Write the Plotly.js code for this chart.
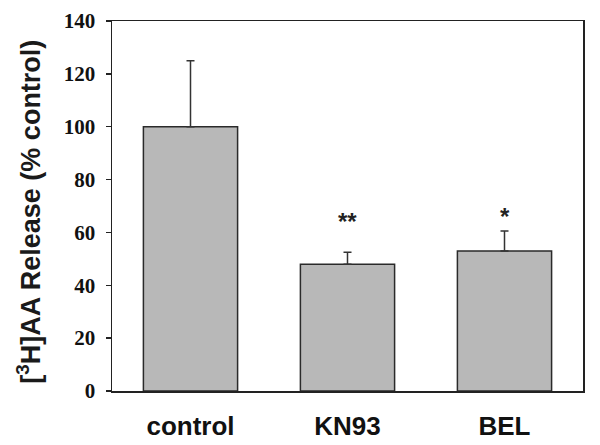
<!DOCTYPE html>
<html>
<head>
<meta charset="utf-8">
<script src="https://cdn.plot.ly/plotly-3.0.1.min.js"></script>
<style>html,body{margin:0;padding:0;background:#fff;}#chart{width:600px;height:445px;}</style>
</head>
<body>
<div id="chart"></div>
<script>
const categories = ["control", "KN93", "BEL"];
const values = [100, 48, 53];
const errors = [25, 4.5, 7.5];
const significance = ["", "**", "*"];
const sigY = [0, 65.5, 67.7];
const yTicks = [0, 20, 40, 60, 80, 100, 120, 140];

const trace = {
  type: "bar",
  x: categories,
  y: values,
  width: 0.6,
  marker: {color: "#b8b8b8", line: {color: "#2a2a2a", width: 1.5}},
  error_y: {type: "data", array: errors, symmetric: false, arrayminus: [0,0,0], color: "#333", thickness: 1.5, width: 4},
  hoverinfo: "none"
};

const annotations = categories.map((c, i) => ({
  x: c, y: sigY[i], xref: "x", yref: "y", text: "<b>" + significance[i] + "</b>", showarrow: false,
  font: {family: "Liberation Sans, Arial", size: 24, color: "#222"},
  yanchor: "middle", yshift: -4
})).filter((a, i) => significance[i]);

annotations.push({
  xref: "paper", yref: "paper", x: -0.178, y: 0.485, showarrow: false, textangle: -90,
  text: "<b>[<sup>3</sup>H]AA Release (% control)</b>",
  font: {family: "Liberation Sans, Arial", size: 27, color: "#1a1a1a"},
  xanchor: "center", yanchor: "middle"
});

const layout = {
  width: 600, height: 445,
  margin: {l: 112, r: 17, t: 21, b: 54},
  paper_bgcolor: "#fff", plot_bgcolor: "#fff",
  showlegend: false,
  xaxis: {
    type: "category", range: [-0.5, 2.5], showgrid: false, zeroline: false,
    showline: true, linecolor: "#222", linewidth: 1.5, mirror: true, ticks: "",
    tickfont: {family: "Liberation Sans, Arial", size: 26, color: "#111", weight: "bold"},
    ticklabelstandoff: 11
  },
  yaxis: {
    range: [0, 140], tickvals: yTicks, showgrid: false, zeroline: false,
    showline: true, linecolor: "#222", linewidth: 1.5, mirror: true,
    ticks: "outside", ticklen: 5, tickcolor: "#222", tickwidth: 1.5,
    ticklabelstandoff: 6,
    tickfont: {family: "Liberation Serif, Times New Roman", size: 21, color: "#111", weight: "bold"}
  },
  annotations: annotations
};

Plotly.newPlot("chart", [trace], layout, {displayModeBar: false, staticPlot: true});
</script>
</body>
</html>
